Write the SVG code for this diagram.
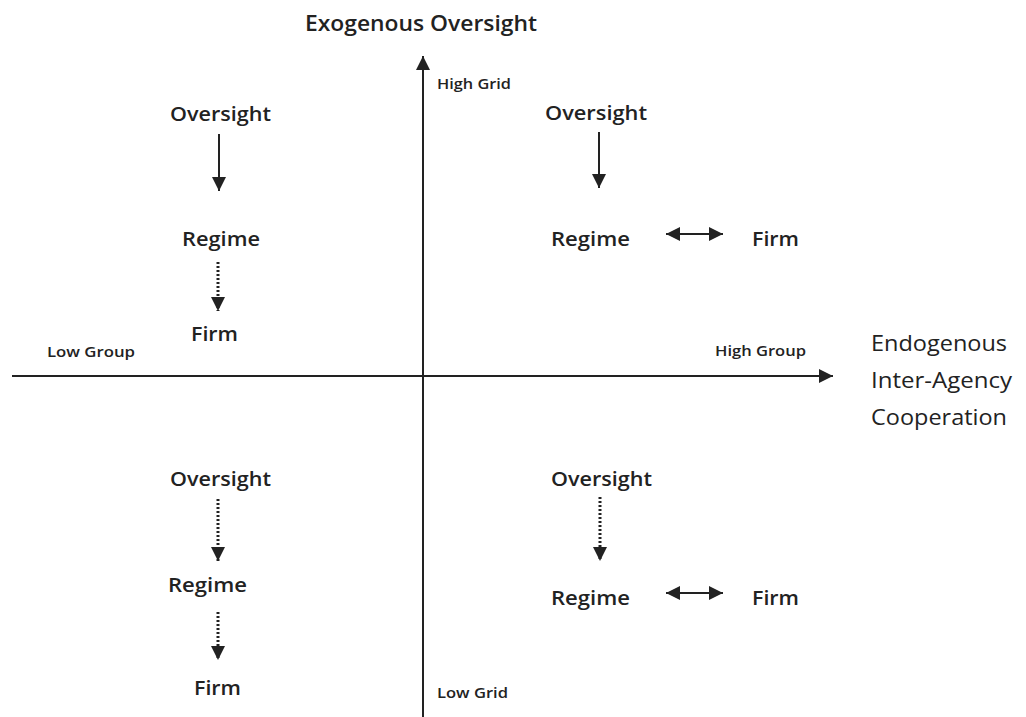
<svg xmlns="http://www.w3.org/2000/svg" width="1026" height="717" viewBox="0 0 1026 717">
<style>
text{font-family:"Open Sans","Liberation Sans",sans-serif;fill:#222;}
.n{font-size:20px;font-weight:600;}
.s{font-size:14px;font-weight:600;}
.t{font-size:21px;font-weight:600;}
.e{font-size:21px;font-weight:400;}
.ax{stroke:#222;stroke-width:2;fill:none;}
.sol{stroke:#222;stroke-width:2;fill:none;}
.dot{stroke:#222;stroke-width:3;stroke-dasharray:2 2;fill:none;}
</style>
<defs>
<marker id="ahl" viewBox="0 0 10 10" refX="10" refY="5" markerWidth="14" markerHeight="14" markerUnits="userSpaceOnUse" orient="auto-start-reverse">
<path d="M0,0 L10,5 L0,10 Z" fill="#222"/>
</marker>
</defs>
<rect width="1026" height="717" fill="#fff"/>
<g id="axes">
<line class="ax" x1="423" y1="717" x2="423" y2="56" marker-end="url(#ahl)"/>
<line class="ax" x1="12" y1="376" x2="833" y2="376" marker-end="url(#ahl)"/>
<text class="t" x="305" y="31" textLength="232" lengthAdjust="spacingAndGlyphs">Exogenous Oversight</text>
<text class="s" x="437" y="89" textLength="74" lengthAdjust="spacingAndGlyphs">High Grid</text>
<text class="s" x="437" y="698" textLength="71" lengthAdjust="spacingAndGlyphs">Low Grid</text>
<text class="s" x="47" y="357" textLength="88" lengthAdjust="spacingAndGlyphs">Low Group</text>
<text class="s" x="715" y="356" textLength="91" lengthAdjust="spacingAndGlyphs">High Group</text>
<text class="e" x="871" y="351" textLength="136" lengthAdjust="spacingAndGlyphs">Endogenous</text>
<text class="e" x="871" y="388" textLength="141" lengthAdjust="spacingAndGlyphs">Inter-Agency</text>
<text class="e" x="871" y="425" textLength="136" lengthAdjust="spacingAndGlyphs">Cooperation</text>
</g>
<g id="q1-oversight"><text class="n" x="170" y="121" textLength="101" lengthAdjust="spacingAndGlyphs">Oversight</text></g>
<g id="q1-regime"><text class="n" x="182" y="246" textLength="78" lengthAdjust="spacingAndGlyphs">Regime</text></g>
<g id="q1-firm"><text class="n" x="191" y="341" textLength="47" lengthAdjust="spacingAndGlyphs">Firm</text></g>
<g id="q2-oversight"><text class="n" x="545" y="120" textLength="102" lengthAdjust="spacingAndGlyphs">Oversight</text></g>
<g id="q2-regime"><text class="n" x="551" y="246" textLength="79" lengthAdjust="spacingAndGlyphs">Regime</text></g>
<g id="q2-firm"><text class="n" x="752" y="246" textLength="47" lengthAdjust="spacingAndGlyphs">Firm</text></g>
<g id="q3-oversight"><text class="n" x="170" y="486" textLength="101" lengthAdjust="spacingAndGlyphs">Oversight</text></g>
<g id="q3-regime"><text class="n" x="168" y="592" textLength="79" lengthAdjust="spacingAndGlyphs">Regime</text></g>
<g id="q3-firm"><text class="n" x="194" y="695" textLength="47" lengthAdjust="spacingAndGlyphs">Firm</text></g>
<g id="q4-oversight"><text class="n" x="551" y="486" textLength="101" lengthAdjust="spacingAndGlyphs">Oversight</text></g>
<g id="q4-regime"><text class="n" x="551" y="605" textLength="79" lengthAdjust="spacingAndGlyphs">Regime</text></g>
<g id="q4-firm"><text class="n" x="752" y="605" textLength="47" lengthAdjust="spacingAndGlyphs">Firm</text></g>
<g id="connectors">
<line class="sol" x1="219" y1="134" x2="219" y2="191" marker-end="url(#ahl)"/>
<line class="dot" x1="218" y1="262" x2="218" y2="311" marker-end="url(#ahl)"/>
<line class="sol" x1="599" y1="132" x2="599" y2="188" marker-end="url(#ahl)"/>
<line class="sol" x1="666" y1="234" x2="723" y2="234" marker-start="url(#ahl)" marker-end="url(#ahl)"/>
<line class="dot" x1="218" y1="499" x2="218" y2="561" marker-end="url(#ahl)"/>
<line class="dot" x1="218" y1="612" x2="218" y2="660" marker-end="url(#ahl)"/>
<line class="dot" x1="600" y1="497" x2="600" y2="561" marker-end="url(#ahl)"/>
<line class="sol" x1="666" y1="593" x2="723" y2="593" marker-start="url(#ahl)" marker-end="url(#ahl)"/>
</g>
</svg>
